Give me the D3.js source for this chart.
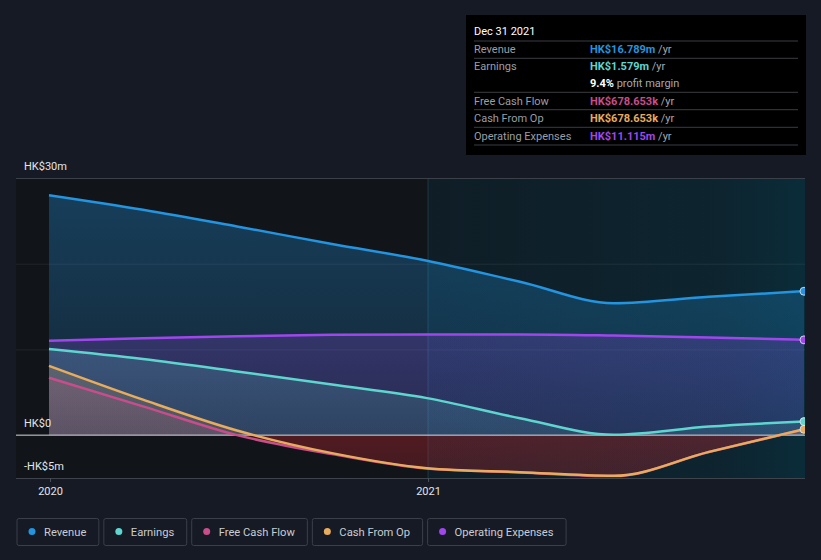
<!DOCTYPE html>
<html>
<head>
<meta charset="utf-8">
<script src="https://cdn.jsdelivr.net/npm/d3@7"></script>
<style>
  html, body { margin: 0; padding: 0; background: #151a24; }
  svg { display: block; font-family: Roboto, "Open Sans", sans-serif; }
</style>
</head>
<body>
<svg id="chart" width="821" height="560"></svg>
<script>
"use strict";

/********/
/* data */
/********/

const dates = [
  "2019-12-31", "2020-03-31", "2020-06-30", "2020-09-30", "2020-12-31",
  "2021-03-31", "2021-06-30", "2021-09-30", "2021-12-31",
];
// HK$ millions, trailing twelve months
const revenue = [28.0, 26.3, 24.35, 22.3, 20.35, 17.9, 15.4, 16.15, 16.789];
const earnings = [10.04, 8.87, 7.43, 5.9, 4.32, 1.98, 0.05, 1.0, 1.579];
const freeCashFlow = [6.69, 3.36, 0.0, -2.2, -3.9, -4.35, -4.78, -1.97, 0.679];
const cashFromOp = [8.09, 4.14, 0.54, -2.1, -3.85, -4.32, -4.75, -1.95, 0.679];
const opExpenses = [11.0, 11.3, 11.55, 11.7, 11.75, 11.75, 11.62, 11.4, 11.115];

const yTicks = [30, 20, 10, 0, -5];
const yTickLabels = { 30: "HK$30m", 0: "HK$0", "-5": "-HK$5m" };
const xTicks = ["2020-01-01", "2021-01-01"];
const highlightStart = "2021-01-01";

const tooltipTitle = "Dec 31 2021";
const tooltipRows = [
  { label: "Revenue", value: "HK$16.789m", unit: " /yr", key: "revenue" },
  { label: "Earnings", value: "HK$1.579m", unit: " /yr", key: "earnings" },
  { label: "", value: "9.4%", unit: " profit margin", key: "margin" },
  { label: "Free Cash Flow", value: "HK$678.653k", unit: " /yr", key: "fcf" },
  { label: "Cash From Op", value: "HK$678.653k", unit: " /yr", key: "cfo" },
  { label: "Operating Expenses", value: "HK$11.115m", unit: " /yr", key: "opex" },
];

/**********/
/* layout */
/**********/

const colours = {
  revenue: "#2394df",
  earnings: "#5ed6cf",
  fcf: "#c94d8a",
  cfo: "#e8ac5c",
  opex: "#9f47ec",
  margin: "#ffffff",
};

const plot = { left: 16, right: 805, top: 178, bottom: 478 };

const parse = d3.timeParse("%Y-%m-%d");

const x = d3
  .scaleTime()
  .domain([parse(dates[0]), parse(dates[dates.length - 1])])
  .range([49, 804]);

const y = d3.scaleLinear().domain([-5, 30]).range([plot.bottom, plot.top]);

const series = [
  { key: "revenue", name: "Revenue", values: revenue },
  { key: "opex", name: "Operating Expenses", values: opExpenses },
  { key: "earnings", name: "Earnings", values: earnings },
  { key: "fcf", name: "Free Cash Flow", values: freeCashFlow },
  { key: "cfo", name: "Cash From Op", values: cashFromOp },
];

const legendOrder = ["revenue", "earnings", "fcf", "cfo", "opex"];

/********/
/* view */
/********/

const svg = d3.select("#chart");
const defs = svg.append("defs");

function backgroundView() {
  svg.append("rect")
    .attr("width", 821)
    .attr("height", 560)
    .attr("fill", "#151a24");

  svg.append("rect")
    .attr("x", plot.left)
    .attr("y", plot.top)
    .attr("width", plot.right - plot.left)
    .attr("height", plot.bottom - plot.top)
    .attr("fill", "#111419");

  const grad = defs.append("linearGradient")
    .attr("id", "highlight")
    .attr("x1", 0).attr("x2", 1).attr("y1", 0).attr("y2", 0);
  grad.append("stop").attr("offset", 0).attr("stop-color", "#0f1d26");
  grad.append("stop").attr("offset", 0.8).attr("stop-color", "#0d2530");
  grad.append("stop").attr("offset", 1).attr("stop-color", "#0a2c39");

  const hx = x(parse(highlightStart));
  svg.append("rect")
    .attr("x", hx)
    .attr("y", plot.top)
    .attr("width", plot.right - hx)
    .attr("height", plot.bottom - plot.top)
    .attr("fill", "url(#highlight)");

  svg.append("line")
    .attr("x1", hx).attr("x2", hx)
    .attr("y1", plot.top).attr("y2", plot.bottom)
    .attr("stroke", "#1f3a44")
    .attr("stroke-width", 1);

  defs.append("clipPath")
    .attr("id", "plot-clip")
    .append("rect")
    .attr("x", plot.left)
    .attr("y", plot.top - 10)
    .attr("width", plot.right - plot.left)
    .attr("height", plot.bottom - plot.top + 10);
}

function gridView() {
  const grid = svg.append("g");
  yTicks.forEach(function(t) {
    let stroke = "rgba(255,255,255,0.07)";
    if (t === 30) stroke = "#3b4049";
    if (t === -5) stroke = "#3e434c";
    if (t === 0) return;
    grid.append("line")
      .attr("x1", plot.left).attr("x2", plot.right)
      .attr("y1", y(t) + 0.5).attr("y2", y(t) + 0.5)
      .attr("stroke", stroke);
  });
}

function areaGradient(id, colour, top, bottom, o1, o2) {
  const g = defs.append("linearGradient")
    .attr("id", id)
    .attr("gradientUnits", "userSpaceOnUse")
    .attr("x1", 0).attr("x2", 0)
    .attr("y1", top).attr("y2", bottom);
  g.append("stop").attr("offset", 0).attr("stop-color", colour).attr("stop-opacity", o1);
  g.append("stop").attr("offset", 1).attr("stop-color", colour).attr("stop-opacity", o2);
}

function seriesView() {
  const layer = svg.append("g").attr("clip-path", "url(#plot-clip)");

  defs.append("clipPath").attr("id", "above-zero")
    .append("rect")
    .attr("x", plot.left).attr("y", plot.top - 10)
    .attr("width", plot.right - plot.left)
    .attr("height", y(0) - plot.top + 10);
  defs.append("clipPath").attr("id", "below-zero")
    .append("rect")
    .attr("x", plot.left).attr("y", y(0))
    .attr("width", plot.right - plot.left)
    .attr("height", plot.bottom - y(0));

  areaGradient("neg-fill", "#b3262f", y(0), plot.bottom, 0.22, 0.16);

  const area = d3.area()
    .x((d, i) => x(parse(dates[i])))
    .y0(y(0))
    .y1(d => y(d))
    .curve(d3.curveMonotoneX);

  const line = d3.line()
    .x((d, i) => x(parse(dates[i])))
    .y(d => y(d))
    .curve(d3.curveMonotoneX);

  series.forEach(function(s) {
    const id = "fill-" + s.key;
    areaGradient(id, colours[s.key], plot.top, y(0), 0.34, 0.14);
    layer.append("path")
      .datum(s.values)
      .attr("d", area)
      .attr("clip-path", "url(#above-zero)")
      .attr("fill", "url(#" + id + ")");
    if (d3.min(s.values) < 0) {
      layer.append("path")
        .datum(s.values)
        .attr("d", area)
        .attr("clip-path", "url(#below-zero)")
        .attr("fill", "url(#neg-fill)");
    }
  });

  // zero line sits above the fills, under the lines
  layer.append("line")
    .attr("x1", plot.left).attr("x2", plot.right)
    .attr("y1", y(0)).attr("y2", y(0))
    .attr("stroke", "#d9dadc")
    .attr("stroke-width", 1);

  series.forEach(function(s) {
    layer.append("path")
      .datum(s.values)
      .attr("d", line)
      .attr("fill", "none")
      .attr("stroke", colours[s.key])
      .attr("stroke-width", 2.5)
      .attr("stroke-linejoin", "round");
  });

  const last = dates.length - 1;
  ["revenue", "opex", "earnings", "cfo"].forEach(function(key) {
    const s = series.find(d => d.key === key);
    layer.append("circle")
      .attr("cx", x(parse(dates[last])))
      .attr("cy", y(s.values[last]))
      .attr("r", 4)
      .attr("fill", colours[key])
      .attr("stroke", "#e8eef2")
      .attr("stroke-width", 0.8);
  });
}

function axesView() {
  const labels = svg.append("g")
    .attr("font-size", "11px")
    .attr("fill", "#e4e5e7");

  Object.keys(yTickLabels).forEach(function(t) {
    labels.append("text")
      .attr("x", 24)
      .attr("y", y(+t) - 8)
      .text(yTickLabels[t]);
  });

  const xAxis = d3.axisBottom(x)
    .tickValues(xTicks.map(parse))
    .tickFormat(d3.timeFormat("%Y"))
    .tickSize(4)
    .tickPadding(5);

  const g = svg.append("g")
    .attr("transform", "translate(0," + plot.bottom + ")")
    .call(xAxis);
  g.select(".domain").remove();
  g.selectAll(".tick line").attr("stroke", "#4a505a");
  g.selectAll(".tick text")
    .attr("fill", "#e4e5e7")
    .attr("font-size", "11px")
    .attr("font-family", "Roboto, sans-serif");
}

function tooltipView() {
  const box = svg.append("g").attr("transform", "translate(466,15)");
  box.append("rect")
    .attr("width", 340)
    .attr("height", 140)
    .attr("fill", "#000000");

  box.append("text")
    .attr("x", 8)
    .attr("y", 20)
    .attr("font-size", "11px")
    .attr("fill", "#ffffff")
    .text(tooltipTitle);

  const rowY = [38, 55.3, 72.3, 89.7, 107.3, 124.5];
  const sepY = [26, 43.3, 77.3, 94.7, 112.3, 130];

  sepY.forEach(function(sy) {
    box.append("line")
      .attr("x1", 8).attr("x2", 332)
      .attr("y1", sy).attr("y2", sy)
      .attr("stroke", "#3a3d42")
      .attr("stroke-width", 1);
  });

  tooltipRows.forEach(function(row, i) {
    box.append("text")
      .attr("x", 8)
      .attr("y", rowY[i])
      .attr("font-size", "11px")
      .attr("fill", "#9a9ea5")
      .text(row.label);
    const t = box.append("text")
      .attr("x", 124)
      .attr("y", rowY[i])
      .attr("font-size", "11px");
    t.append("tspan")
      .attr("fill", colours[row.key])
      .attr("font-weight", "bold")
      .text(row.value);
    t.append("tspan")
      .attr("fill", "#a5a9b0")
      .text(row.unit);
  });
}

function legendView() {
  const legend = svg.append("g").attr("transform", "translate(0,518)");
  let cursor = 16.5;
  legendOrder.forEach(function(key) {
    const s = series.find(d => d.key === key);
    const item = legend.append("g").attr("transform", "translate(" + cursor + ",0)");
    const rect = item.append("rect")
      .attr("x", 0.5)
      .attr("y", 0.5)
      .attr("height", 27)
      .attr("rx", 2)
      .attr("fill", "none")
      .attr("stroke", "#3a3f4a");
    item.append("circle")
      .attr("cx", 15.5)
      .attr("cy", 13.5)
      .attr("r", 3.5)
      .attr("fill", colours[key]);
    const label = item.append("text")
      .attr("x", 27.5)
      .attr("y", 17.5)
      .attr("font-size", "11.2px")
      .attr("fill", "#c9ccd2")
      .text(s.name);
    const w = 27.5 + label.node().getComputedTextLength() + 12;
    rect.attr("width", w);
    cursor += w + 5;
  });
}

/********/
/* init */
/********/

backgroundView();
gridView();
seriesView();
axesView();
tooltipView();
legendView();
</script>
</body>
</html>
